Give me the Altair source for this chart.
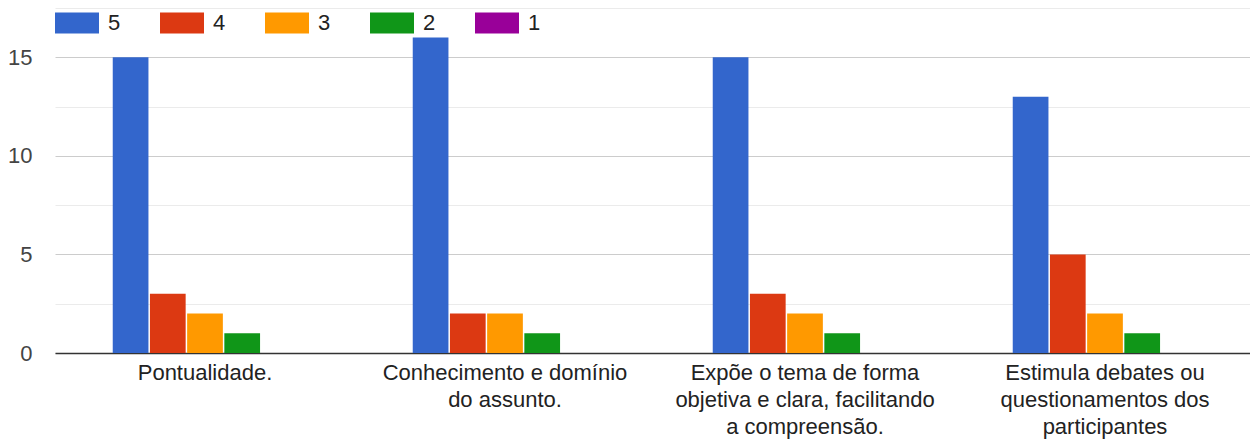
import altair as alt
import pandas as pd

# Category labels (line breaks marked with "|")
categories = [
    "Pontualidade.",
    "Conhecimento e domínio|do assunto.",
    "Expõe o tema de forma|objetiva e clara, facilitando|a compreensão.",
    "Estimula debates ou|questionamentos dos|participantes",
]
series = ["5", "4", "3", "2", "1"]
colors = ["#3366cc", "#dc3912", "#ff9900", "#109618", "#990099"]

s5 = [15, 16, 15, 13]
s4 = [3, 2, 3, 5]
s3 = [2, 2, 2, 2]
s2 = [1, 1, 1, 1]
s1 = [0, 0, 0, 0]

y_ticks = [0, 2.5, 5, 7.5, 10, 12.5, 15, 17.5]

values_by_series = {"5": s5, "4": s4, "3": s3, "2": s2, "1": s1}
rows = []
for s in series:
    for c, v in zip(categories, values_by_series[s]):
        rows.append({"cat": c, "serie": s, "valor": v})
df = pd.DataFrame(rows)

FONT = "Liberation Sans"

chart = alt.Chart(df).mark_bar().encode(
    x=alt.X(
        "cat:N",
        sort=categories,
        title=None,
        scale=alt.Scale(paddingInner=0.38, paddingOuter=0.19),
        axis=alt.Axis(
            labelAngle=0,
            labelExpr="split(datum.label, '|')",
            labelFont=FONT,
            labelFontSize=22,
            labelColor="#222222",
            labelLineHeight=27,
            labelPadding=9,
            labelLimit=400,
            ticks=False,
            grid=False,
            domainColor="#333333",
            domainWidth=1.3,
        ),
    ),
    xOffset=alt.XOffset(
        "serie:N",
        sort=series,
        scale=alt.Scale(paddingInner=0.04, paddingOuter=0.02),
    ),
    y=alt.Y(
        "valor:Q",
        title=None,
        scale=alt.Scale(domain=[0, 17.5], nice=False),
        axis=alt.Axis(
            values=y_ticks,
            labelExpr="datum.value % 5 === 0 ? datum.label : ''",
            labelFont=FONT,
            labelFontSize=22,
            labelColor="#444444",
            labelPadding=23,
            ticks=False,
            domain=False,
            gridColor={
                "condition": {"test": "datum.value % 5 === 0", "value": "#cccccc"},
                "value": "#ebebeb",
            },
        ),
    ),
    color=alt.Color(
        "serie:N",
        sort=series,
        scale=alt.Scale(domain=series, range=colors),
        legend=alt.Legend(
            title=None,
            orient="none",
            legendX=0,
            legendY=-7,
            direction="horizontal",
            columns=5,
            symbolType="M-1,-0.477h2v0.955h-2z",
            symbolSize=1936,
            symbolStrokeWidth=0,
            symbolOpacity=1,
            labelFont=FONT,
            labelFontSize=22,
            labelColor="#222222",
            labelOffset=9,
            columnPadding=39,
        ),
    ),
).properties(
    width=1200,
    height=345,
    autosize=alt.AutoSizeParams(type="none"),
    padding={"left": 47, "top": 0, "right": -5, "bottom": 88},
).configure_view(stroke=None)

chart.save("out.html", embed_options={"renderer": "svg", "actions": False})
